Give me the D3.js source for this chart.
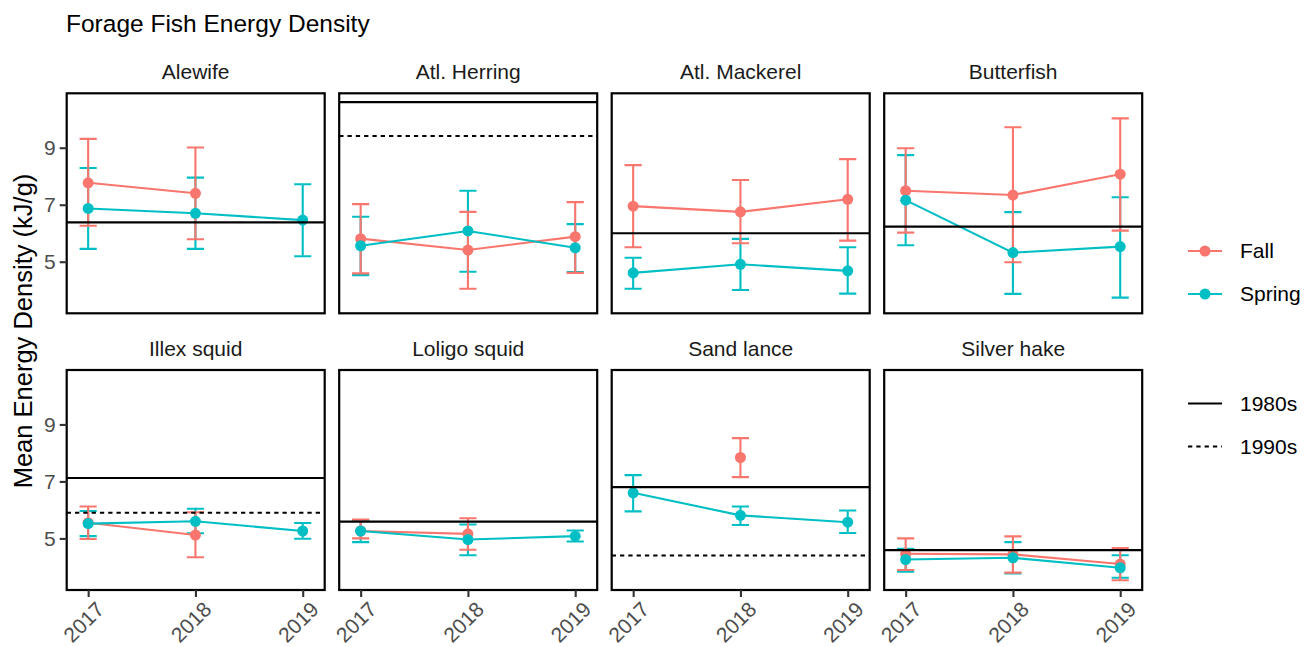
<!DOCTYPE html>
<html>
<head>
<meta charset="utf-8">
<script src="https://cdn.jsdelivr.net/npm/d3@7"></script>
<style>
  html, body { margin: 0; padding: 0; background: #fff; }
  svg { display: block; font-family: "Liberation Sans", Arial, Helvetica, sans-serif; }
</style>
</head>
<body>
<svg id="chart" width="1304" height="647"></svg>
<script>
// ---------------- data ----------------
const species = ["Alewife", "Atl. Herring", "Atl. Mackerel", "Butterfish",
                 "Illex squid", "Loligo squid", "Sand lance", "Silver hake"];
const years = [2017, 2018, 2019];
const yTicks = [5, 7, 9];
const seasons = ["Fall", "Spring"];
const decades = ["1980s", "1990s"];

const fallMean = [
  [7.77, 7.40, null], [5.81, 5.41, 5.88], [6.95, 6.75, 7.19], [7.49, 7.34, 8.07],
  [5.55, 5.12, null], [5.26, 5.16, null], [null, 7.84, null], [4.46, 4.44, 4.10]];
const fallLower = [
  [6.26, 5.79, null], [4.59, 4.05, 4.61], [5.51, 5.65, 5.74], [6.02, 4.98, 6.09],
  [4.98, 4.34, null], [5.00, 4.60, null], [null, 7.15, null], [3.89, 3.80, 3.53]];
const fallUpper = [
  [9.31, 9.01, null], [7.02, 6.75, 7.09], [8.39, 7.87, 8.60], [8.98, 9.72, 10.03],
  [6.12, 5.92, null], [5.66, 5.71, null], [null, 8.52, null], [5.00, 5.07, 4.66]];

const springMean = [
  [6.87, 6.70, 6.46], [5.56, 6.08, 5.49], [4.61, 4.91, 4.68], [7.16, 5.32, 5.53],
  [5.52, 5.60, 5.26], [5.26, 4.96, 5.08], [6.60, 5.81, 5.57], [4.26, 4.32, 3.97]];
const springLower = [
  [5.45, 5.45, 5.19], [4.53, 4.65, 4.64], [4.05, 4.01, 3.88], [5.58, 3.87, 3.74],
  [5.08, 5.18, 4.99], [4.87, 4.41, 4.89], [5.95, 5.47, 5.19], [3.83, 3.77, 3.62]];
const springUpper = [
  [8.29, 7.95, 7.72], [6.58, 7.49, 6.32], [5.14, 5.80, 5.51], [8.74, 6.74, 7.26],
  [5.96, 6.04, 5.54], [5.63, 5.49, 5.28], [7.22, 6.12, 5.98], [4.64, 4.87, 4.41]];

const ref1980s = [6.38, 10.60, 6.00, 6.23, 7.12, 5.59, 6.80, 4.59];
const ref1990s = [null, 9.41, null, null, 5.90, null, 4.40, null];

// ---------------- layout ----------------
const colors = { Fall: "#F8766D", Spring: "#00BFC4" };
const panelW = 258, panelH = 220;
const colLeft = [66.7, 339.2, 611.7, 884.2];
const rowTop = [93.3, 370];

const svg = d3.select("#chart");

const x = d3.scaleLinear().domain([2016.8, 2019.205]).range([0, panelW]);
const y = d3.scaleLinear().domain([3.19, 10.91]).range([panelH, 0]);
const capHalf = 0.08;

svg.append("text")
  .attr("x", 66).attr("y", 32)
  .attr("font-size", 24.5).attr("fill", "#000")
  .text("Forage Fish Energy Density");

svg.append("text")
  .attr("transform", "translate(32,331) rotate(-90)")
  .attr("text-anchor", "middle")
  .attr("font-size", 25.5).attr("fill", "#000")
  .text("Mean Energy Density (kJ/g)");

const seriesData = {
  Fall: { mean: fallMean, lo: fallLower, hi: fallUpper },
  Spring: { mean: springMean, lo: springLower, hi: springUpper }
};

species.forEach((name, i) => {
  const col = i % 4, row = Math.floor(i / 4);
  const g = svg.append("g").attr("transform", `translate(${colLeft[col]},${rowTop[row]})`);

  // strip label
  g.append("text")
    .attr("x", panelW / 2).attr("y", -14)
    .attr("text-anchor", "middle")
    .attr("font-size", 21).attr("fill", "#1a1a1a")
    .text(name);

  const clipId = "clip" + i;
  g.append("clipPath").attr("id", clipId)
    .append("rect").attr("width", panelW).attr("height", panelH);
  const plot = g.append("g").attr("clip-path", `url(#${clipId})`);

  // error bars (Spring first, Fall on top)
  ["Spring", "Fall"].forEach(s => {
    const d = seriesData[s];
    years.forEach((yr, j) => {
      if (d.mean[i][j] == null) return;
      const lo = d.lo[i][j], hi = d.hi[i][j];
      const eb = plot.append("g").attr("stroke", colors[s]).attr("stroke-width", 2.1).attr("fill", "none");
      eb.append("line").attr("x1", x(yr)).attr("x2", x(yr)).attr("y1", y(lo)).attr("y2", y(hi));
      eb.append("line").attr("x1", x(yr - capHalf)).attr("x2", x(yr + capHalf)).attr("y1", y(lo)).attr("y2", y(lo));
      eb.append("line").attr("x1", x(yr - capHalf)).attr("x2", x(yr + capHalf)).attr("y1", y(hi)).attr("y2", y(hi));
    });
  });

  // lines
  seasons.forEach(s => {
    const pts = years.map((yr, j) => ({ yr, v: seriesData[s].mean[i][j] }));
    const line = d3.line().defined(p => p.v != null).x(p => x(p.yr)).y(p => y(p.v));
    plot.append("path").attr("d", line(pts))
      .attr("fill", "none").attr("stroke", colors[s]).attr("stroke-width", 2.1);
  });

  // points
  seasons.forEach(s => {
    years.forEach((yr, j) => {
      const v = seriesData[s].mean[i][j];
      if (v == null) return;
      plot.append("circle").attr("cx", x(yr)).attr("cy", y(v)).attr("r", 5.5)
        .attr("fill", colors[s]);
    });
  });

  // reference lines
  if (ref1980s[i] != null) {
    plot.append("line").attr("x1", 0).attr("x2", panelW)
      .attr("y1", y(ref1980s[i])).attr("y2", y(ref1980s[i]))
      .attr("stroke", "#000").attr("stroke-width", 2.1);
  }
  if (ref1990s[i] != null) {
    plot.append("line").attr("x1", 0).attr("x2", panelW)
      .attr("y1", y(ref1990s[i])).attr("y2", y(ref1990s[i]))
      .attr("stroke", "#000").attr("stroke-width", 2.1)
      .attr("stroke-dasharray", "4.3,4");
  }

  // panel border
  g.append("rect").attr("width", panelW).attr("height", panelH)
    .attr("fill", "none").attr("stroke", "#000").attr("stroke-width", 2.2);

  // y axis on left column
  if (col === 0) {
    const ya = g.append("g").call(d3.axisLeft(y).tickValues(yTicks).tickSize(7).tickPadding(4).tickFormat(d3.format("d")));
    ya.select(".domain").remove();
    ya.selectAll(".tick line").attr("stroke", "#333").attr("stroke-width", 2.1);
    ya.selectAll(".tick text").attr("fill", "#4D4D4D").attr("font-size", 21).attr("font-family", "Liberation Sans, Arial, sans-serif");
  }
  // x axis on bottom row
  if (row === 1) {
    const xa = g.append("g").attr("transform", `translate(0,${panelH})`)
      .call(d3.axisBottom(x).tickValues(years).tickSize(7).tickPadding(4).tickFormat(d3.format("d")));
    xa.select(".domain").remove();
    xa.selectAll(".tick line").attr("stroke", "#333").attr("stroke-width", 2.1);
    xa.selectAll(".tick text")
      .attr("fill", "#4D4D4D").attr("font-size", 21).attr("font-family", "Liberation Sans, Arial, sans-serif")
      .attr("text-anchor", "end")
      .attr("dy", null)
      .attr("transform", "translate(6,10) rotate(-45)")
      .attr("y", 0).attr("x", 0)
      .attr("dominant-baseline", "hanging");
  }
});

// ---------------- legend ----------------
const leg = svg.append("g");
const seasonY = [251, 294];
seasons.forEach((s, k) => {
  const gy = seasonY[k];
  leg.append("line").attr("x1", 1188).attr("x2", 1222).attr("y1", gy).attr("y2", gy)
    .attr("stroke", colors[s]).attr("stroke-width", 2.1);
  leg.append("circle").attr("cx", 1205).attr("cy", gy).attr("r", 5.5).attr("fill", colors[s]);
  leg.append("text").attr("x", 1240).attr("y", gy).attr("dy", "0.35em")
    .attr("font-size", 21).attr("fill", "#000").text(s);
});
const decY = [403.5, 446.5];
decades.forEach((d, k) => {
  const gy = decY[k];
  leg.append("line").attr("x1", 1188).attr("x2", 1222).attr("y1", gy).attr("y2", gy)
    .attr("stroke", "#000").attr("stroke-width", 2.1)
    .attr("stroke-dasharray", k === 1 ? "4.3,4" : null);
  leg.append("text").attr("x", 1240).attr("y", gy).attr("dy", "0.35em")
    .attr("font-size", 21).attr("fill", "#000").text(d);
});
</script>
</body>
</html>
